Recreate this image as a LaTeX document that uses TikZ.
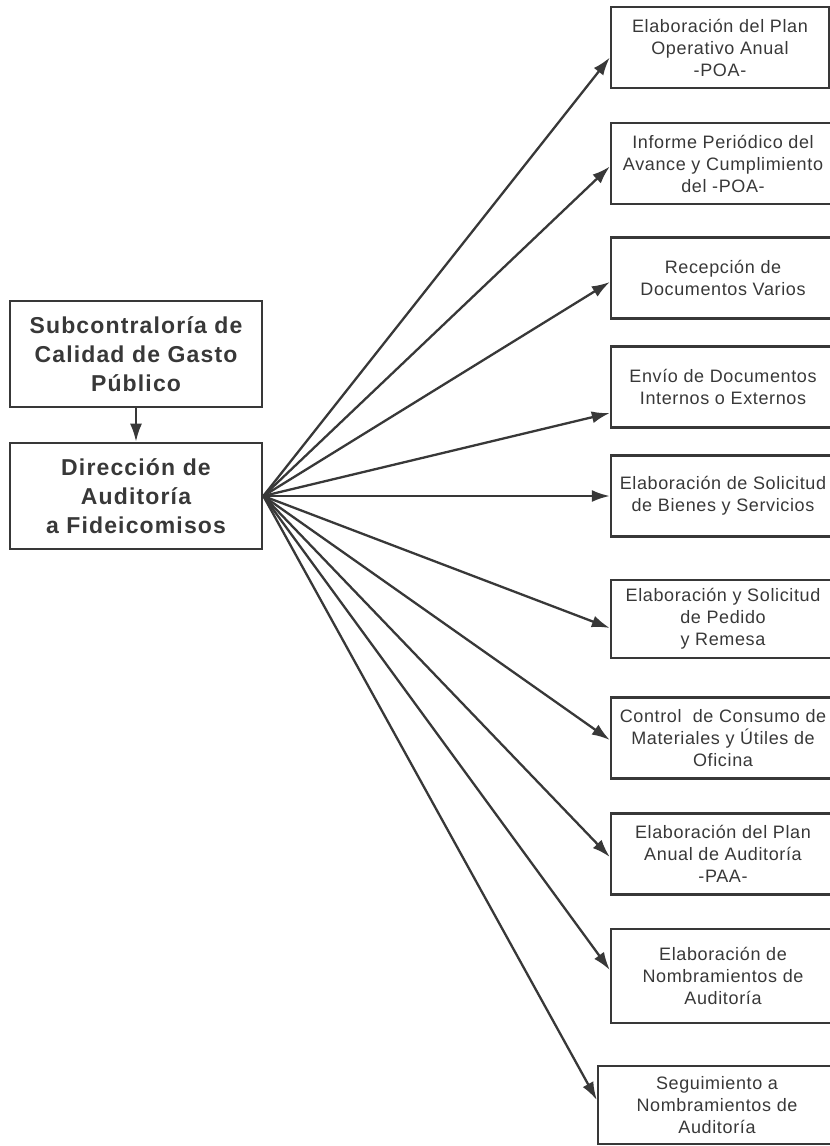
\documentclass[tikz,border=0pt]{standalone}
\usepackage{fontspec}
\setmainfont{Liberation Sans}
\usetikzlibrary{arrows.meta}
\definecolor{ink}{HTML}{383838}
\tikzset{
  tarea/.style={draw=ink, line width=2.4pt, text=ink, align=center,
    minimum width=224pt, minimum height=81pt, inner sep=0pt,
    font=\fontsize{18}{22}\selectfont\addfontfeature{LetterSpace=3.5}},
  unidad/.style={draw=ink, line width=2.6pt, text=ink, align=center,
    minimum width=252pt, minimum height=106pt, inner sep=0pt,
    font=\fontsize{23}{29}\selectfont\bfseries\addfontfeature{LetterSpace=5}},
  flecha/.style={draw=ink, line width=2.3pt, -{Latex[length=18pt,width=12pt]}}
}
\begin{document}
\begin{tikzpicture}[x=1pt,y=-1pt]
    \useasboundingbox (0,0) rectangle (830,1146);
    %% units
    \node[unidad] (sub) at (136,354) {Subcontraloría de\\Calidad de Gasto\\Público};
    \node[unidad] (dir) at (136,496) {Dirección de\\Auditoría\\a Fideicomisos};
    \draw[flecha] (sub.south) -- (dir.north);
    %% tasks
    \node[tarea, minimum width=218pt] (poa) at (720,47.5) {Elaboración del Plan\\Operativo Anual\\-POA-};
    \node[tarea] (inf) at (723,163.5) {Informe Periódico del\\Avance y Cumplimiento\\del -POA-};
    \node[tarea] (rec) at (723,278) {Recepción de\\Documentos Varios};
    \node[tarea] (env) at (723,387) {Envío de Documentos\\Internos o Externos};
    \node[tarea] (sol) at (723,496) {Elaboración de Solicitud\\de Bienes y Servicios};
    \node[tarea, minimum height=78pt] (ped) at (723,619) {Elaboración y Solicitud\\de Pedido\\y Remesa};
    \node[tarea] (con) at (723,738) {Control\ \ de Consumo de\\Materiales y Útiles de\\Oficina};
    \node[tarea] (paa) at (723,854) {Elaboración del Plan\\Anual de Auditoría\\-PAA-};
    \node[tarea, minimum height=94pt] (nom) at (723,976) {Elaboración de\\Nombramientos de\\Auditoría};
    \node[tarea, minimum width=238pt, minimum height=78pt] (seg) at (717,1105) {Seguimiento a\\Nombramientos de\\Auditoría};
    %% arrows
    \draw[flecha] (dir.east) -- ([yshift=-10pt]poa.west);
    \draw[flecha] (dir.east) -- ([yshift=-3pt]inf.west);
    \draw[flecha] (dir.east) -- ([yshift=-4pt]rec.west);
    \draw[flecha] (dir.east) -- ([yshift=-26pt]env.west);
    \draw[flecha] (dir.east) -- (sol.west);
    \draw[flecha] (dir.east) -- ([yshift=-9pt]ped.west);
    \draw[flecha] (dir.east) -- ([yshift=-2pt]con.west);
    \draw[flecha] (dir.east) -- ([yshift=-3pt]paa.west);
    \draw[flecha] (dir.east) -- ([yshift=6pt]nom.west);
    \draw[flecha] (dir.east) -- ([yshift=5pt]seg.west);
\end{tikzpicture}
\end{document}
